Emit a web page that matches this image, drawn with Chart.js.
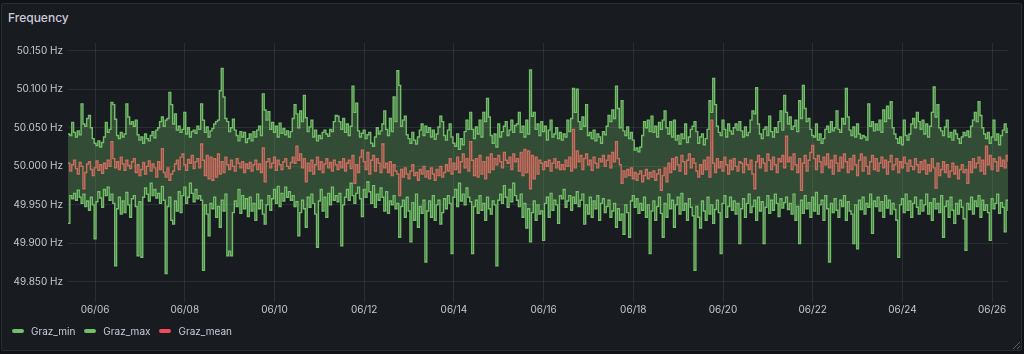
<!DOCTYPE html>
<html>
<head>
<meta charset="utf-8">
<script src="https://cdn.jsdelivr.net/npm/chart.js@4.4.1/dist/chart.umd.min.js"></script>
<style>
  html, body { margin: 0; padding: 0; width: 1024px; height: 354px; overflow: hidden; background: #111217; font-family: Inter, "Noto Sans", sans-serif; }
  #panel { position: absolute; left: 1px; top: 3px; width: 1019px; height: 346px; background: #181b1f; border: 1px solid #2a2d33; border-radius: 2px; }
  #title { position: absolute; left: 8px; top: 10px; font-size: 12px; font-weight: 500; color: #ccccdc; }
  #chart { position: absolute; left: 0; top: 0; }
  #legend { position: absolute; left: 12px; top: 325px; display: flex; gap: 9px; font-size: 10px; color: #ccccdc; }
  .item { display: flex; align-items: center; }
  .mark { width: 12px; height: 4px; border-radius: 2px; margin-right: 7px; }
  #grip { position: absolute; right: 4px; bottom: 5px; }
</style>
</head>
<body>
<div id="panel"></div>
<div id="title">Frequency</div>
<canvas id="chart" width="1024" height="354"></canvas>
<div id="legend"></div>
<svg id="grip" width="8" height="8"><path d="M1 8 L8 1 M5 8 L8 5" stroke="#5a5d63" stroke-width="1"/></svg>
<script>
// hourly samples, deviation from 50 Hz in mHz, one row per day
var grazMin = [
  -74,-38,-42,-35,-44,-31,-40,-48,-36,-52,-45,-57,-40,-50,-94,-46,-33,-41,-53,-30,-38,-27,-44,-36,
  -48,-129,-55,-40,-62,-45,-60,-34,-50,-66,-42,-38,-52,-116,-46,-118,-40,-28,-36,-45,-22,-38,-30,-41,
  -35,-48,-26,-44,-139,-52,-40,-70,-75,-45,-58,-33,-60,-38,-27,-48,-40,-22,-35,-46,-30,-42,-38,-44,
  -135,-50,-62,-90,-48,-55,-40,-66,-52,-79,-44,-58,-36,-116,-110,-116,-60,-45,-52,-30,-61,-38,-55,-42,
  -65,-40,-58,-48,-70,-36,-55,-44,-62,-75,-50,-38,-57,-42,-30,-48,-26,-52,-35,-45,-27,-40,-33,-44,
  -38,-52,-46,-90,-60,-44,-55,-79,-40,-53,-36,-48,-62,-105,-45,-30,-58,-40,-66,-35,-50,-27,-44,-38,
  -46,-35,-103,-50,-40,-30,-44,-22,-38,-48,-35,-27,-42,-65,-30,-40,-20,-33,-48,-25,-53,-36,-44,-28,
  -40,-58,-33,-61,-45,-50,-38,-55,-48,-92,-52,-44,-66,-40,-58,-98,-47,-70,-36,-79,-52,-61,-44,-124,
  -58,-45,-66,-38,-70,-50,-44,-75,-60,-42,-55,-38,-48,-113,-40,-30,-52,-22,-45,-36,-50,-28,-40,-46,
  -113,-52,-44,-61,-38,-57,-48,-70,-40,-55,-62,-45,-50,-129,-44,-36,-48,-25,-40,-53,-30,-46,-22,-38,
  -44,-52,-36,-66,-48,-80,-55,-98,-60,-45,-70,-50,-62,-58,-96,-48,-40,-66,-35,-57,-44,-50,-74,-38,
  -42,-30,-53,-45,-38,-57,-40,-48,-33,-52,-44,-36,-75,-50,-62,-40,-66,-45,-55,-38,-70,-48,-42,-60,
  -52,-44,-66,-58,-48,-79,-55,-70,-62,-88,-50,-60,-92,-45,-38,-53,-42,-61,-48,-57,-40,-66,-50,-113,
  -58,-45,-70,-52,-40,-61,-92,-48,-66,-36,-55,-44,-79,-50,-40,-62,-35,-57,-48,-70,-42,-53,-64,-135,
  -52,-66,-80,-45,-58,-70,-40,-62,-50,-74,-56,-44,-60,-113,-48,-38,-66,-52,-40,-57,-45,-62,-48,-100,
  -55,-42,-66,-48,-36,-60,-52,-44,-70,-40,-58,-46,-100,-53,-38,-61,-44,-57,-36,-48,-65,-42,-54,-47,
  -40,-56,-48,-62,-36,-70,-52,-100,-44,-61,-38,-55,-47,-66,-40,-58,-34,-62,-50,-44,-70,-38,-55,-124,
  -48,-60,-42,-57,-66,-44,-52,-38,-70,-46,-58,-62,-100,-50,-107,-44,-56,-40,-62,-48,-53,-36,-87,-45,
  -52,-40,-58,-46,-66,-38,-54,-44,-62,-48,-56,-70,-118,-50,-42,-60,-36,-57,-45,-66,-48,-40,-53,-62,
  -44,-58,-50,-36,-62,-47,-70,-42,-55,-48,-60,-38,-92,-52,-45,-66,-40,-57,-74,-48,-62,-44,-53,-68,
  -109,-48,-56,-40,-62,-45,-52,-38,-66,-44,-57,-50,-60,-96,-42,-55,-48,-36,-61,-47,-53,-85,-44,-58
];
var grazMax = [
  42,40,57,44,38,46,41,81,55,52,62,66,50,36,30,27,33,25,31,38,57,44,48,83,
  80,61,40,36,44,38,42,81,64,55,58,52,60,41,34,38,30,42,36,33,40,45,37,47,
  50,58,64,52,60,62,96,80,55,68,47,52,44,48,70,42,50,38,45,47,43,52,48,81,
  60,44,51,38,46,49,55,58,60,98,127,90,62,58,45,50,61,47,40,33,45,38,44,31,
  36,42,33,45,38,47,52,40,94,73,60,71,48,57,44,52,38,56,43,49,41,46,38,45,
  62,80,68,50,72,58,92,63,45,51,60,38,47,33,40,36,44,47,42,39,48,45,58,66,
  65,58,48,62,44,55,40,52,104,70,82,46,38,43,47,36,41,44,30,26,38,50,42,46,
  55,72,48,40,62,45,90,58,124,105,52,60,65,41,36,30,44,34,29,38,47,55,40,52,
  44,50,38,47,35,42,51,65,58,40,34,47,55,38,30,26,42,22,36,28,45,60,48,70,
  48,36,51,42,60,38,70,58,88,64,40,30,42,25,55,38,45,52,58,40,47,60,44,53,
  55,70,44,52,38,60,42,125,65,70,48,55,40,58,45,52,34,47,60,38,42,50,36,44,
  34,42,38,60,45,62,101,70,100,58,48,64,52,80,40,44,36,47,33,42,38,30,45,41,
  52,66,58,73,62,104,75,50,85,46,40,51,36,44,34,21,24,19,25,40,58,50,60,45,
  65,44,52,38,57,48,60,72,50,42,58,38,60,34,40,29,42,36,55,31,38,48,52,58,
  45,30,38,42,28,36,48,85,70,114,80,52,44,40,60,48,38,55,46,42,50,55,47,58,
  46,38,51,40,44,60,72,68,102,55,42,36,48,51,40,65,45,38,50,44,58,72,47,92,
  70,55,64,48,52,60,45,85,62,105,75,58,62,48,40,38,55,34,42,30,36,48,52,44,
  58,46,50,72,48,44,62,55,101,64,47,40,51,38,55,42,36,40,38,34,81,52,58,46,
  55,47,60,44,73,58,78,62,84,50,42,36,30,38,28,60,40,34,42,55,62,50,70,58,
  48,60,42,55,38,52,70,103,64,80,50,46,40,51,60,38,44,34,47,42,36,30,38,44,
  40,46,38,52,60,70,58,84,66,50,42,36,44,30,38,60,34,42,28,40,47,55,44,50
];
var grazMean = [
  4,-6,2,8,-3,-10,5,0,-29,-8,3,6,-4,-12,-2,7,-5,2,-9,4,-3,8,0,32,
  10,-2,6,-4,12,3,-5,8,1,-3,6,10,-8,2,-12,-4,5,-10,0,7,-6,3,-2,-14,
  6,-4,23,-8,-14,-2,-18,-10,-6,3,8,-4,12,16,2,-5,9,4,14,-3,6,10,-2,29,
  8,-12,14,-16,12,-18,10,-14,16,-10,6,-8,12,2,-4,8,0,-6,10,4,-2,6,-8,3,
  -3,5,-6,2,8,-4,3,-8,24,-20,6,10,-2,4,12,-5,8,2,-4,6,10,0,-3,5,
  12,4,26,8,16,-2,10,-20,4,-6,8,-10,2,12,-4,6,-8,3,10,-2,5,-6,8,2,
  -4,6,-2,10,-6,4,8,-3,14,-22,2,-8,12,21,6,-4,18,-10,8,14,-6,10,4,-8,
  29,-2,4,-8,6,-12,2,-6,-10,-38,-4,-14,-2,-10,-16,-6,2,-12,-8,-18,-4,-10,0,-14,
  -6,-16,-2,-10,-18,-4,-12,0,-14,-8,2,-6,10,-10,4,-4,12,-8,6,16,-2,10,-6,32,
  8,-12,10,-14,14,-10,6,-16,12,-8,16,-4,10,2,14,6,-2,18,8,4,12,-4,16,6,
  10,-6,18,-12,22,-8,20,-29,14,-16,12,-10,8,4,-4,6,0,8,-6,4,10,-2,6,-4,
  2,-4,8,0,12,-6,48,-2,20,6,14,-4,10,16,2,8,-5,12,4,-2,10,6,14,0,
  8,14,-2,18,6,32,10,2,-22,-6,-14,-4,-12,-2,-16,-8,-18,-10,-6,-20,-12,-4,-16,-8,
  -14,-6,-18,-10,-4,-31,-12,-2,-20,4,-8,10,-4,12,2,-6,14,6,-10,8,16,-2,10,4,
  -6,-14,2,-10,8,-4,12,-14,60,4,-8,10,-2,6,-6,12,2,-10,8,-4,10,0,-6,6,
  4,-8,10,2,-4,8,-10,-29,6,14,-2,10,4,-6,16,8,-4,12,2,-8,10,6,14,-2,
  39,6,12,-4,16,2,-8,10,-31,4,14,-6,8,18,27,10,-4,14,6,-8,12,2,16,-2,
  8,-10,14,4,-6,12,-2,16,6,-8,10,-4,14,2,-12,8,16,-6,12,0,-10,6,14,-4,
  10,-6,4,12,-2,8,-10,6,14,-4,2,10,-8,6,-2,12,4,-6,8,0,-4,10,2,-8,
  6,-4,8,-10,2,-6,10,-2,-28,4,-12,-4,6,-8,2,-14,-6,4,-10,0,-16,-4,2,-8,
  -4,-22,6,-8,10,-2,4,12,-6,8,-10,26,2,14,-4,10,6,-6,12,0,8,-2,14,6
];
var seriesNames = ['Graz_min', 'Graz_max', 'Graz_mean'];
var seriesColors = ['#73BF69', '#73BF69', '#F2495C'];
var tickLabels = ['06/06', '06/08', '06/10', '06/12', '06/14', '06/16', '06/18', '06/20', '06/22', '06/24', '06/26'];
var yTicks = [49.85, 49.9, 49.95, 50.0, 50.05, 50.1, 50.15];

var HOUR = 3600 * 1000;
var start = Date.UTC(2024, 5, 5, 9, 30);

function toPoints(arr) {
  return arr.map(function (v, i) { return { x: start + i * HOUR, y: 50 + v / 1000 }; });
}
var tickValues = tickLabels.map(function (l) {
  var p = l.split('/');
  return Date.UTC(2024, parseInt(p[0], 10) - 1, parseInt(p[1], 10));
});

var lines = [grazMin, grazMax, grazMean];
var datasets = lines.map(function (arr, k) {
  return {
    label: seriesNames[k],
    data: toPoints(arr),
    borderColor: seriesColors[k],
    borderWidth: 1.4,
    pointRadius: 0,
    stepped: true,
    fill: k === 0 ? '+1' : false,
    backgroundColor: k === 0 ? 'rgba(115,191,105,0.3)' : seriesColors[k]
  };
});

var textColor = '#c7c7d1';
var gridColor = 'rgba(204,204,220,0.1)';

new Chart(document.getElementById('chart'), {
  type: 'line',
  data: { datasets: datasets },
  options: {
    responsive: false,
    animation: false,
    devicePixelRatio: 1,
    layout: { padding: { top: 43, right: 16, bottom: 0, left: 0 } },
    plugins: { legend: { display: false }, tooltip: { enabled: false } },
    scales: {
      x: {
        type: 'linear',
        min: start,
        max: start + (grazMax.length - 1) * HOUR,
        afterFit: function (s) { s.height = 62; },
        afterBuildTicks: function (s) { s.ticks = tickValues.map(function (v) { return { value: v }; }); },
        grid: { color: gridColor, tickLength: 10, drawTicks: true },
        border: { display: false },
        ticks: {
          color: textColor, font: { family: 'Inter', size: 10 }, padding: 2, maxRotation: 0,
          callback: function (v, i) { return tickLabels[i]; }
        }
      },
      y: {
        min: 49.837,
        max: 50.160,
        afterFit: function (s) { s.width = 68; },
        afterBuildTicks: function (s) { s.ticks = yTicks.map(function (v) { return { value: v }; }); },
        grid: { color: gridColor, drawTicks: false },
        border: { display: false },
        ticks: {
          color: textColor, font: { family: 'Inter', size: 10 }, padding: 5,
          callback: function (v) { return v.toFixed(3) + ' Hz'; }
        }
      }
    }
  }
});

var legend = document.getElementById('legend');
seriesNames.forEach(function (n, k) {
  var it = document.createElement('div');
  it.className = 'item';
  it.innerHTML = '<span class="mark" style="background:' + seriesColors[k] + '"></span>' + n;
  legend.appendChild(it);
});
</script>
</body>
</html>
